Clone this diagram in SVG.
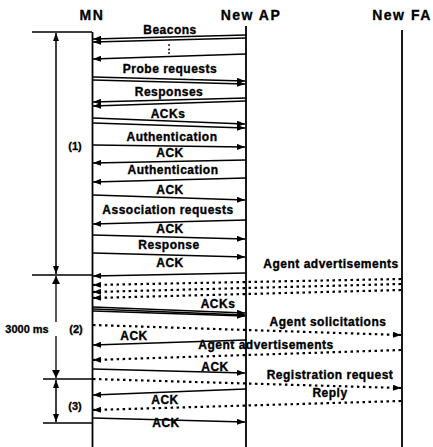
<svg xmlns="http://www.w3.org/2000/svg" width="433" height="447" viewBox="0 0 433 447">
<style>
  .hdr{font-family:"Liberation Sans",Arial,sans-serif;font-weight:bold;font-size:14px;letter-spacing:1.5px;fill:#000;stroke:#000;stroke-width:0.3;text-anchor:middle}
  .lbl{font-family:"Liberation Sans",Arial,sans-serif;font-weight:bold;font-size:12px;letter-spacing:0.5px;fill:#000;stroke:#000;stroke-width:0.35;text-anchor:middle}
  .br{font-family:"Liberation Sans",Arial,sans-serif;font-weight:bold;font-size:11px;fill:#000;stroke:#000;stroke-width:0.3;text-anchor:middle}
  .life{stroke:#000;stroke-width:1.8;fill:none}
  .msg{stroke:#000;stroke-width:1.3;fill:none;marker-end:url(#ah)}
  .dot{stroke:#000;stroke-width:2.2;fill:none;stroke-dasharray:2.5 3.5;marker-end:url(#ah)}
  .tick{stroke:#000;stroke-width:1.3;fill:none}
  .dim{stroke:#000;stroke-width:1.5;fill:none;marker-start:url(#ahs);marker-end:url(#ah)}
</style>
<defs>
  <marker id="ah" viewBox="0 0 8 6" refX="8" refY="3" markerWidth="8" markerHeight="6" markerUnits="userSpaceOnUse" orient="auto">
    <path d="M0,0 L8,3 L0,6 z" fill="#000"/>
  </marker>
  <marker id="ahs" viewBox="0 0 8 6" refX="0" refY="3" markerWidth="8" markerHeight="6" markerUnits="userSpaceOnUse" orient="auto">
    <path d="M8,0 L0,3 L8,6 z" fill="#000"/>
  </marker>
</defs>
<rect width="433" height="447" fill="#fff"/>

<g id="MN">
  <text class="hdr" x="92" y="20">MN</text>
  <line class="life" x1="92.5" y1="32" x2="92.5" y2="447"/>
</g>
<g id="NewAP">
  <text class="hdr" x="251" y="20">New AP</text>
  <line class="life" x1="246" y1="26" x2="246" y2="447"/>
</g>
<g id="NewFA">
  <text class="hdr" x="402" y="20">New FA</text>
  <line class="life" x1="402" y1="30" x2="402" y2="447"/>
</g>

<g id="phases">
  <line class="tick" x1="32" y1="32" x2="92" y2="32"/>
  <line class="tick" x1="32" y1="275" x2="92" y2="275"/>
  <line class="tick" x1="43" y1="379" x2="92" y2="379"/>
  <line class="tick" x1="43" y1="423" x2="92" y2="423"/>
  <line class="dim" x1="56" y1="33" x2="56" y2="274"/>
  <line class="tick" x1="56" y1="276" x2="56" y2="322"/>
  <path d="M52,284 L56,276 L60,284 z" fill="#000"/>
  <line class="tick" x1="56" y1="336" x2="56" y2="378"/>
  <path d="M52,370 L56,378 L60,370 z" fill="#000"/>
  <line class="dim" x1="56" y1="380" x2="56" y2="422"/>
  <text class="br" x="75" y="150">(1)</text>
  <text class="br" x="27" y="333">3000 ms</text>
  <text class="br" x="76" y="333">(2)</text>
  <text class="br" x="75" y="410">(3)</text>
</g>

<g id="connectors">
  <!-- phase 1 -->
  <line class="msg" x1="246" y1="35" x2="93" y2="39"/>
  <line class="msg" x1="246" y1="38" x2="93" y2="42"/>
  <g fill="#000"><circle cx="169" cy="45" r="0.9"/><circle cx="169" cy="49.5" r="0.9"/><circle cx="169" cy="53" r="0.9"/></g>
  <line class="msg" x1="246" y1="54" x2="93" y2="59"/>
  <line class="msg" x1="93" y1="77" x2="245" y2="81"/>
  <line class="msg" x1="93" y1="80" x2="245" y2="84"/>
  <line class="msg" x1="246" y1="98" x2="93" y2="102"/>
  <line class="msg" x1="246" y1="101" x2="93" y2="106"/>
  <line class="msg" x1="93" y1="118" x2="245" y2="124"/>
  <line class="msg" x1="93" y1="123" x2="245" y2="128"/>
  <line class="msg" x1="93" y1="145" x2="245" y2="147"/>
  <line class="msg" x1="246" y1="160" x2="93" y2="163"/>
  <line class="msg" x1="246" y1="178" x2="93" y2="182"/>
  <line class="msg" x1="93" y1="195" x2="245" y2="200"/>
  <line class="msg" x1="246" y1="220" x2="93" y2="224"/>
  <line class="msg" x1="93" y1="235" x2="245" y2="239"/>
  <line class="msg" x1="93" y1="253" x2="245" y2="257"/>
  <line class="msg" x1="246" y1="273" x2="93" y2="276"/>
  <!-- phase 2 -->
  <line class="dot" x1="401" y1="279" x2="93" y2="285"/>
  <line class="dot" x1="401" y1="284" x2="93" y2="292"/>
  <line class="dot" x1="401" y1="290" x2="93" y2="298"/>
  <line class="msg" x1="93" y1="307" x2="245" y2="313"/>
  <line class="msg" x1="93" y1="309" x2="245" y2="315"/>
  <line class="msg" x1="93" y1="311" x2="245" y2="316"/>
  <line class="dot" x1="93" y1="325" x2="401" y2="335"/>
  <line class="msg" x1="246" y1="340" x2="93" y2="345"/>
  <line class="dot" x1="401" y1="350" x2="93" y2="360"/>
  <line class="msg" x1="93" y1="369" x2="245" y2="373"/>
  <!-- phase 3 -->
  <line class="dot" x1="93" y1="379" x2="401" y2="388"/>
  <line class="msg" x1="246" y1="389" x2="93" y2="395"/>
  <line class="dot" x1="401" y1="401" x2="93" y2="410"/>
  <line class="msg" x1="93" y1="418" x2="245" y2="422"/>
</g>

<g id="labels">
  <text class="lbl" x="170" y="34">Beacons</text>
  <text class="lbl" x="170" y="73">Probe requests</text>
  <text class="lbl" x="169" y="96">Responses</text>
  <text class="lbl" x="168" y="118">ACKs</text>
  <text class="lbl" x="172" y="141">Authentication</text>
  <text class="lbl" x="170" y="157">ACK</text>
  <text class="lbl" x="173" y="174">Authentication</text>
  <text class="lbl" x="170" y="194">ACK</text>
  <text class="lbl" x="168" y="214">Association requests</text>
  <text class="lbl" x="170" y="233">ACK</text>
  <text class="lbl" x="169" y="249">Response</text>
  <text class="lbl" x="170" y="267">ACK</text>
  <text class="lbl" x="331" y="268">Agent advertisements</text>
  <text class="lbl" x="218" y="308">ACKs</text>
  <text class="lbl" x="328" y="326">Agent solicitations</text>
  <text class="lbl" x="134" y="340">ACK</text>
  <text class="lbl" x="266" y="349">Agent advertisements</text>
  <text class="lbl" x="215" y="371">ACK</text>
  <text class="lbl" x="330" y="379">Registration request</text>
  <text class="lbl" x="330" y="397">Reply</text>
  <text class="lbl" x="165" y="404">ACK</text>
  <text class="lbl" x="166" y="427">ACK</text>
</g>
</svg>
